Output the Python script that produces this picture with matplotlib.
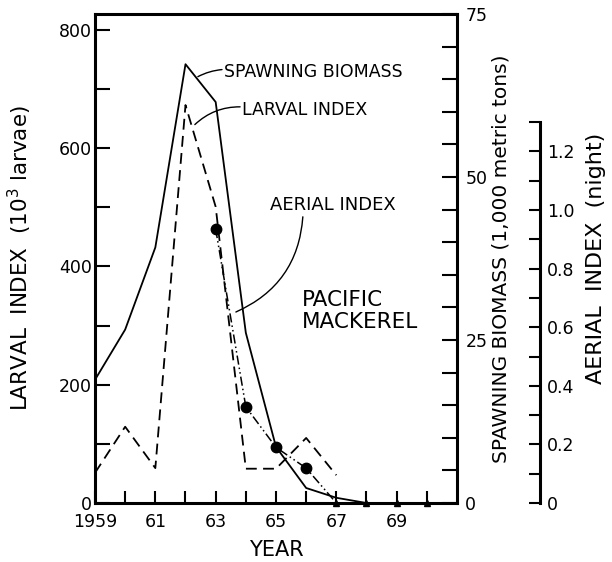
import matplotlib
matplotlib.use("Agg")
import matplotlib.pyplot as plt
from matplotlib.ticker import FixedLocator, MultipleLocator

plt.rcParams['font.family'] = ['DejaVu Sans']

years = [1959, 1960, 1961, 1962, 1963, 1964, 1965, 1966, 1967, 1968, 1969, 1970]
biomass = [18.9, 26.6, 39.2, 67.3, 61.5, 26.1, 8.6, 2.3, 0.8, 0.0, 0.0, 0.0]
larval_years = [1959, 1960, 1961, 1962, 1963, 1964, 1965, 1966, 1967]
larval = [51, 129, 59, 673, 501, 58, 58, 110, 47]
aerial_years = [1963, 1964, 1965, 1966, 1967, 1968, 1969, 1970]
aerial = [0.935, 0.328, 0.19, 0.119, 0.0, 0.0, 0.0, 0.0]

x_major = [1959, 1961, 1963, 1965, 1967, 1969]
x_labels = ['1959', '61', '63', '65', '67', '69']
x_minor = [1960, 1962, 1964, 1966, 1968, 1970]

fig = plt.figure(figsize=(6.12, 5.62), dpi=100)
W, H = 612, 562
x0, x1, ytop, ybot = 95, 457, 14, 503
ax = fig.add_axes([x0 / W, (H - ybot) / H, (x1 - x0) / W, (ybot - ytop) / H])
ax.set_xlim(1959, 1971)
ax.set_ylim(0, 827)

spw = 2.2
for s in ['left', 'bottom', 'top', 'right']:
    ax.spines[s].set_linewidth(spw)

tfs = 12.5
ax.set_xticks(x_major)
ax.set_xticklabels(x_labels)
ax.xaxis.set_minor_locator(FixedLocator(x_minor))
ax.set_yticks([0, 200, 400, 600, 800])
ax.yaxis.set_minor_locator(MultipleLocator(100))
ax.tick_params(axis='both', which='both', direction='in', width=1.5)
ax.tick_params(axis='y', which='both', length=11, pad=2, labelsize=tfs)
ax.tick_params(axis='x', which='both', length=9, pad=7, labelsize=tfs)

# larval index (left axis)
ax.plot(larval_years, larval, color='black', lw=1.3, linestyle=(0, (6, 3.5)), zorder=3)

# spawning biomass (right axis)
ax2 = ax.twinx()
ax2.set_ylim(0, 75)
ax2.set_yticks([0, 25, 50, 75])
ax2.yaxis.set_minor_locator(MultipleLocator(5))
ax2.tick_params(axis='y', which='both', direction='in', length=11, width=1.5, pad=6, labelsize=tfs)
for s in ax2.spines.values():
    s.set_visible(False)
ax2.plot(years, biomass, color='black', lw=1.3, zorder=3)
ax2.set_ylabel('SPAWNING BIOMASS (1,000 metric tons)', fontsize=14.5, labelpad=3)

# aerial index (third axis)
ax3 = ax.twinx()
for s in ['left', 'top', 'bottom']:
    ax3.spines[s].set_visible(False)
ax3.spines['right'].set_position(('axes', (540 - x0) / (x1 - x0)))
ax3.spines['right'].set_linewidth(spw)
ax3.spines['right'].set_bounds(0, 1.3)
ax3.set_ylim(0, 489 / 293)
ax3.set_yticks([0, 0.2, 0.4, 0.6, 0.8, 1.0, 1.2])
ax3.set_yticklabels(['0', '0.2', '0.4', '0.6', '0.8', '1.0', '1.2'])
ax3.yaxis.set_minor_locator(FixedLocator([0.1, 0.3, 0.5, 0.7, 0.9, 1.1, 1.3]))
ax3.tick_params(axis='y', which='both', direction='in', length=8, width=1.5, pad=5, labelsize=tfs)
ax3.plot(aerial_years, aerial, color='black', lw=1.1, linestyle=(0, (6, 2, 1, 2, 1, 2)),
         zorder=2, clip_on=False)
ax3.plot(aerial_years[:4], aerial[:4], linestyle='none', color='black',
         marker='o', markersize=7.5, zorder=2, clip_on=False)
ax3.plot(aerial_years[4:], aerial[4:], linestyle='none', color='black',
         marker='^', markersize=5, zorder=2, clip_on=False)
ax3.set_ylabel('AERIAL  INDEX  (night)', fontsize=16, labelpad=8)

ax.set_ylabel('LARVAL  INDEX  (10$^3$ larvae)', fontsize=15.5, labelpad=18)
ax.set_xlabel('YEAR', fontsize=15, labelpad=7)

ax.set_zorder(ax3.get_zorder() + 1)
ax.patch.set_visible(False)
ax2.set_zorder(ax.get_zorder() + 1)

# annotations
fs = 12.5
ax.text(1963.28, 729, 'SPAWNING BIOMASS', fontsize=fs, va='center', ha='left')
ax.text(1963.87, 665, 'LARVAL INDEX', fontsize=fs, va='center', ha='left')
ax.text(1964.80, 504, 'AERIAL INDEX', fontsize=13, va='center', ha='left')
ax.text(1965.86, 325, 'PACIFIC\nMACKEREL', fontsize=15.5, va='center', ha='left', linespacing=1.1)

lead = dict(arrowstyle='-', lw=1.0, color='black', shrinkA=0, shrinkB=0)
ax.annotate('', xy=(1962.41, 721), xytext=(1963.21, 733),
            arrowprops=dict(lead, connectionstyle='arc3,rad=0.1'))
ax.annotate('', xy=(1962.31, 640), xytext=(1963.81, 670),
            arrowprops=dict(lead, connectionstyle='arc3,rad=0.2'))
ax.annotate('', xy=(1963.67, 323), xytext=(1965.89, 484),
            arrowprops=dict(lead, connectionstyle='arc3,rad=-0.3'))

fig.savefig('out.png', dpi=100)
